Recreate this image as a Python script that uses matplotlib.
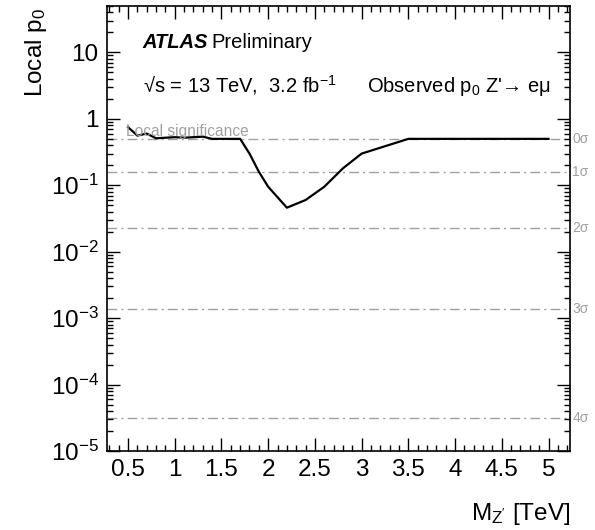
import math
import matplotlib
matplotlib.use("Agg")
import matplotlib.pyplot as plt
from matplotlib.ticker import FixedLocator, FuncFormatter, MultipleLocator, LogLocator, NullFormatter

plt.rcParams["font.family"] = ["Liberation Sans", "DejaVu Sans"]
plt.rcParams["mathtext.fontset"] = "custom"
plt.rcParams["mathtext.rm"] = "Liberation Sans"
plt.rcParams["mathtext.it"] = "Liberation Sans:italic"
plt.rcParams["mathtext.bf"] = "Liberation Sans:bold"

# observed local p0 vs Z' mass
mass = [0.5, 0.6, 0.7, 0.8, 1.0, 1.1, 1.3, 1.4, 1.7, 1.8, 1.9, 2.0,
        2.2, 2.4, 2.6, 2.8, 3.0, 3.5, 4.0, 4.5, 5.0]
p0 = [0.75, 0.56, 0.6, 0.51, 0.53, 0.52, 0.54, 0.5, 0.5, 0.3, 0.16, 0.095,
      0.046, 0.06, 0.095, 0.18, 0.3, 0.5, 0.5, 0.5, 0.5]

# local significance reference lines
sig_labels = ["0σ", "1σ", "2σ", "3σ", "4σ"]
sig_p = [0.5, 0.158655, 0.02275, 0.0013499, 3.167e-5]

grey = "#a0a0a0"

fig = plt.figure(figsize=(5.95, 5.30), dpi=100)
ax = fig.add_axes([107 / 595, 1 - 451 / 530, (570 - 107) / 595, (451 - 6) / 530])

for lab, p in zip(sig_labels, sig_p):
    ax.axhline(p, color=grey, lw=1.0, linestyle=(0, (7, 3, 1.5, 3)), zorder=1)
    ax.text(1.005, p, lab, transform=ax.get_yaxis_transform(), color=grey,
            fontsize=10, va="center", ha="left")

ax.plot(mass, p0, color="k", lw=1.6, zorder=3)

ax.set_yscale("log")
ax.set_ylim(1e-5, 50)
ax.set_xlim(0.275, 5.23)

ax.yaxis.set_major_locator(FixedLocator([1e-5, 1e-4, 1e-3, 1e-2, 1e-1, 1, 10]))


def ylab(v, pos):
    # ROOT style: plain 10 and 1, powers below
    if v == 10:
        return "10"
    if v == 1:
        return "1"
    return r"$10^{%d}$" % int(round(math.log10(v)))


ax.yaxis.set_major_formatter(FuncFormatter(ylab))
ax.yaxis.set_minor_locator(LogLocator(base=10, subs=range(2, 10), numticks=20))
ax.yaxis.set_minor_formatter(NullFormatter())
ax.xaxis.set_major_locator(MultipleLocator(0.5))
ax.xaxis.set_minor_locator(MultipleLocator(0.1))
ax.xaxis.set_major_formatter(FuncFormatter(lambda v, pos: ("%g" % v)))

ax.tick_params(which="both", direction="in", top=True, right=True, width=1.0)
ax.tick_params(which="major", length=9.5, labelsize=17.5, pad=6)
ax.tick_params(which="minor", length=4.5)
for s in ax.spines.values():
    s.set_linewidth(1.2)

ax.text(0.041, 0.5, "Local significance", transform=ax.get_yaxis_transform(),
        color=grey, fontsize=11.2, va="bottom", ha="left")

# ATLAS labels
ax.text(0.077, 0.905, "ATLAS", transform=ax.transAxes, fontsize=14.5,
        fontweight="bold", fontstyle="italic", va="baseline")
ax.text(0.077 + 0.148, 0.905, "Preliminary", transform=ax.transAxes,
        fontsize=14.5, va="baseline")
ax.text(0.077, 0.807, r"√s = 13 TeV,  3.2 fb$^{-1}$",
        transform=ax.transAxes, fontsize=14.5, va="baseline")
ax.text(0.562, 0.807, r"Observed p$_0$ Z'→ eμ", transform=ax.transAxes,
        fontsize=14.5, va="baseline")

fig.text(36 / 595, 1 - 8 / 530, r"Local p$_0$", rotation=90, fontsize=17.5,
         ha="center", va="top")
fig.text(570 / 595, 1 - 520 / 530, r"M$_{\mathrm{Z'}}$ [TeV]", fontsize=17.5,
         ha="right", va="baseline")

fig.savefig("out.png", dpi=100)
